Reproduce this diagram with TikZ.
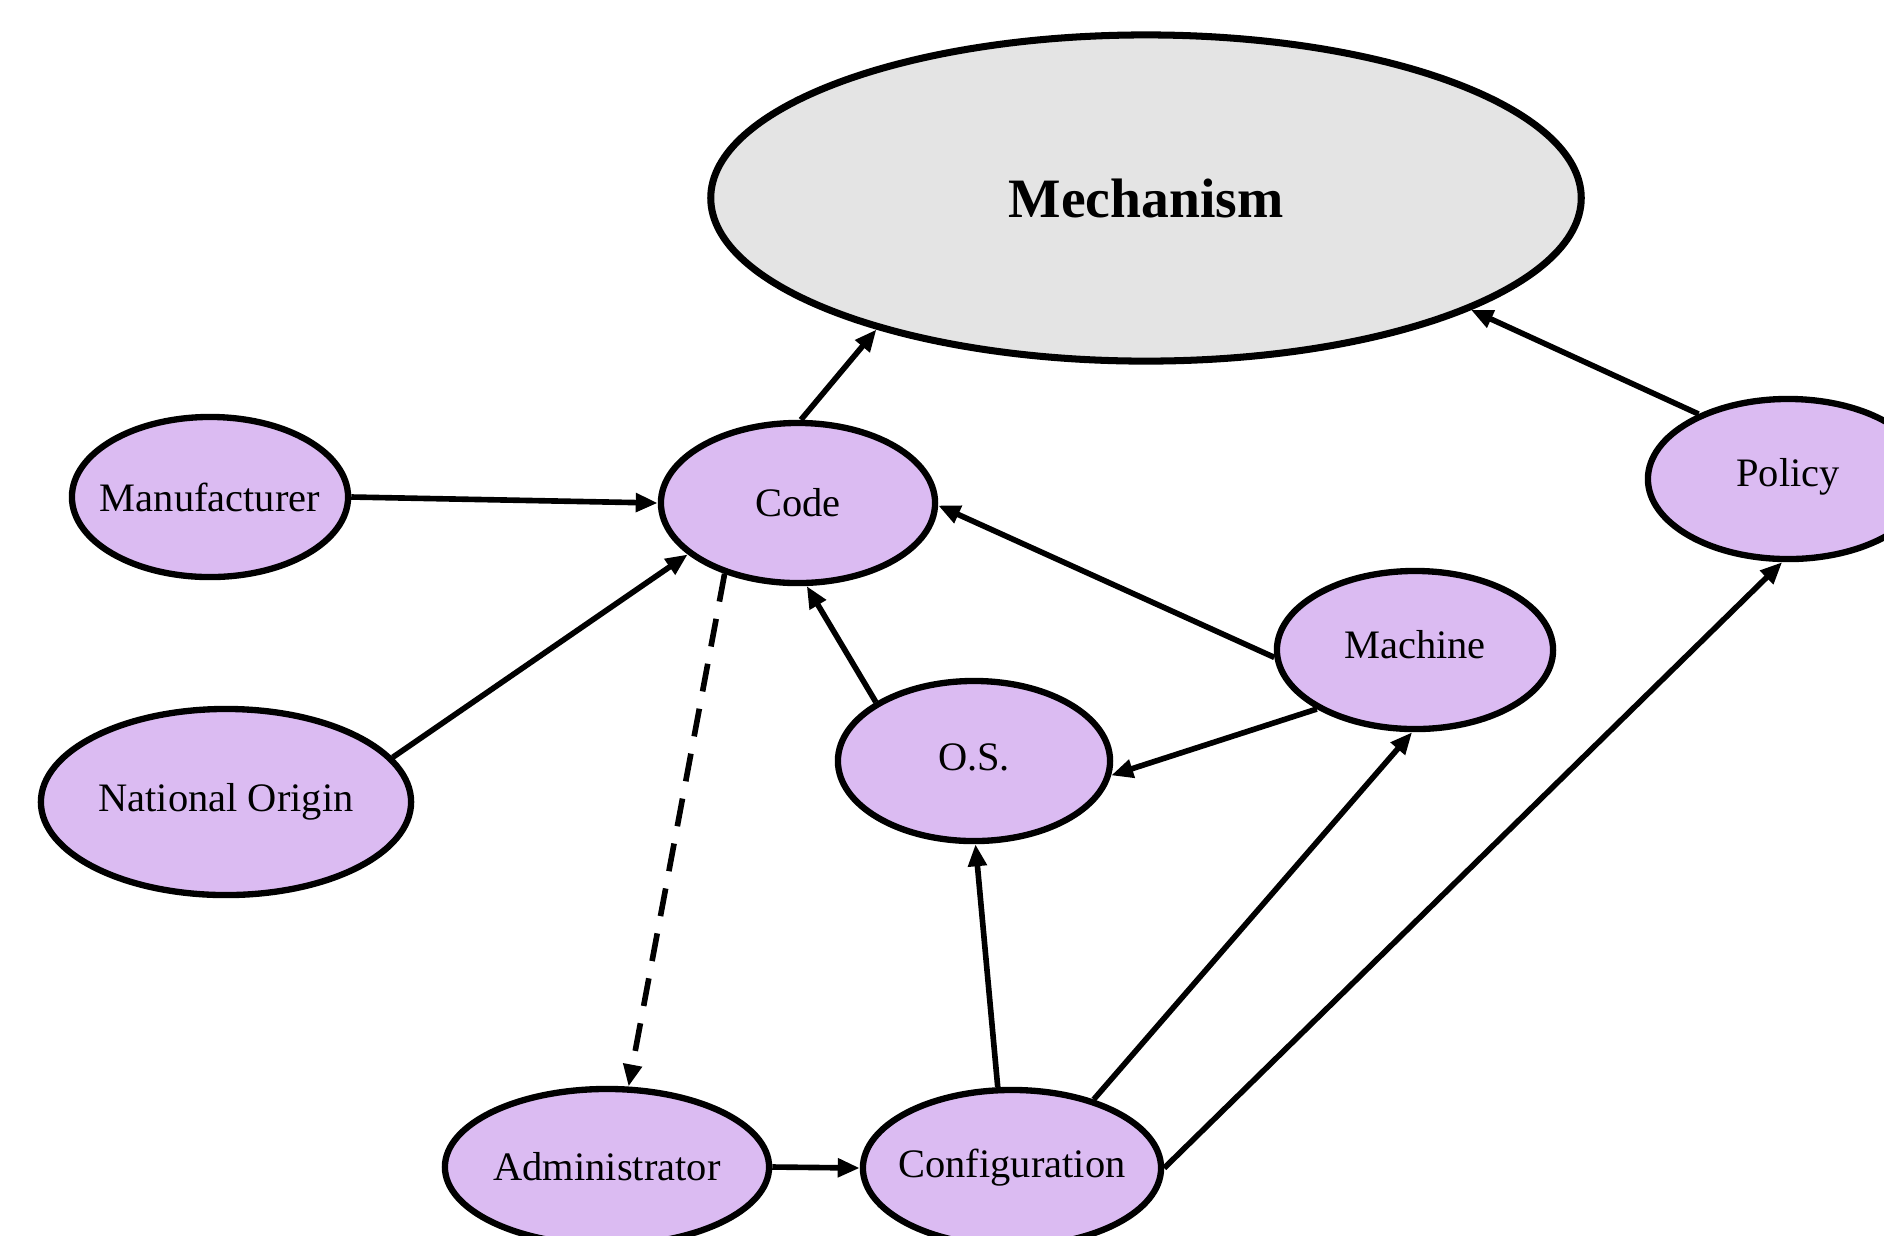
\documentclass[tikz,border=0pt]{standalone}
\usepackage{fontspec}
\setmainfont{Liberation Serif}
\usetikzlibrary{shapes.geometric,arrows.meta}

\definecolor{lav}{HTML}{DBBBF2}
\definecolor{mechgray}{HTML}{E4E4E4}

% label set in a zero-width box so the ellipse keeps its given size
\newcommand{\flatlabel}[1]{\makebox[0pt]{#1}}

\tikzset{
  factor/.style={ellipse, draw=black, line width=1.8pt, fill=lav, inner sep=0pt,
    font=\fontsize{11.5}{13}\selectfont},
  link/.style={line width=1.6pt, -{Triangle[length=0.22cm, width=0.18cm]}},
  weaklink/.style={link, dash pattern=on 8pt off 5pt}
}

\begin{document}
\begin{tikzpicture}[x=0.01cm, y=-0.01cm]
  \useasboundingbox (0,0) rectangle (1884,1235);
  \clip (0,0) rectangle (1884,1235);

  % central mechanism
  \node[ellipse, draw=black, line width=2pt, fill=mechgray, inner sep=0pt,
        minimum width=8.70cm, minimum height=3.26cm,
        font=\fontsize{15.8}{18}\selectfont\bfseries] (mech) at (1146,198) {\flatlabel{Mechanism}};

  % contributing factors
  \node[factor, minimum width=2.76cm, minimum height=1.60cm] (manu)    at (210,497)  {\flatlabel{Manufacturer}};
  \node[factor, minimum width=2.74cm, minimum height=1.60cm] (code)    at (798,503)  {\flatlabel{Code}};
  \node[factor, minimum width=2.80cm, minimum height=1.60cm] (policy)  at (1788,479) {\raisebox{4pt}{\flatlabel{Policy}}};
  \node[factor, minimum width=2.76cm, minimum height=1.58cm] (machine) at (1415,650) {\raisebox{3pt}{\flatlabel{Machine}}};
  \node[factor, minimum width=3.70cm, minimum height=1.86cm] (natorig) at (226,802)  {\flatlabel{National Origin}};
  \node[factor, minimum width=2.72cm, minimum height=1.60cm] (os)      at (974,761)  {\raisebox{2pt}{\flatlabel{O.S.}}};
  \node[factor, minimum width=3.24cm, minimum height=1.56cm] (admin)   at (607,1167) {\flatlabel{Administrator}};
  \node[factor, minimum width=2.98cm, minimum height=1.56cm] (config)  at (1012,1168) {\flatlabel{Configuration}};

  % influences
  \draw[link] (code.88)     -- (mech.206);
  \draw[link] (policy.144)  -- (mech.341);
  \draw[link] (manu.0)      -- (code.180);
  \draw[link] (natorig.15)  -- (code.205);
  \draw[link] (machine.183) -- (code.359);
  \draw[link] (os.149)      -- (code.276);
  \draw[link] (machine.211) -- (os.354);
  \draw[link] (config.100)  -- (os.271);
  \draw[link] (config.40)   -- (machine.268);
  \draw[link] (config.0)    -- (policy.266);
  \draw[weaklink] (code.224) -- (admin.75);
  \draw[link] (admin.0)     -- (config.180);
\end{tikzpicture}
\end{document}
